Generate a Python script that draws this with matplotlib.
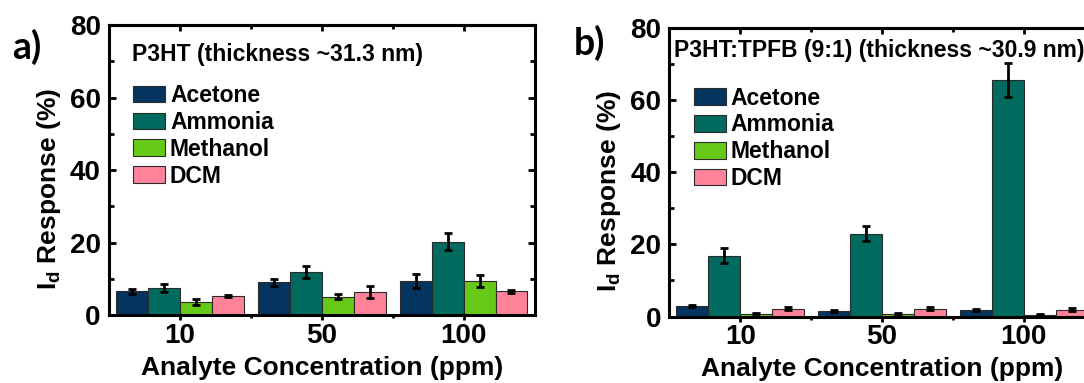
import matplotlib
matplotlib.use('Agg')
import matplotlib.pyplot as plt
import numpy as np

# concentrations (ppm)
conc = ['10', '50', '100']
gases = ['Acetone', 'Ammonia', 'Methanol', 'DCM']
colors = ['#04355f', '#006b5e', '#66c918', '#ff8298']

# panel a) P3HT
a_acetone = [6.5, 9.0, 9.4]
a_ammonia = [7.5, 11.9, 20.2]
a_methanol = [3.6, 5.0, 9.4]
a_dcm = [5.3, 6.3, 6.6]
a_acetone_err = [0.8, 0.9, 2.0]
a_ammonia_err = [1.1, 1.75, 2.4]
a_methanol_err = [0.7, 0.7, 1.6]
a_dcm_err = [0.3, 1.6, 0.4]

# panel b) P3HT:TPFB
b_acetone = [3.0, 1.5, 1.7]
b_ammonia = [16.9, 23.0, 65.6]
b_methanol = [0.8, 0.7, 0.5]
b_dcm = [2.1, 2.2, 1.9]
b_acetone_err = [0.3, 0.3, 0.3]
b_ammonia_err = [2.1, 2.2, 4.6]
b_methanol_err = [0.2, 0.2, 0.2]
b_dcm_err = [0.4, 0.4, 0.4]

plt.rcParams['font.family'] = ['Liberation Sans', 'DejaVu Sans']
plt.rcParams['font.weight'] = 'bold'
plt.rcParams['mathtext.fontset'] = 'custom'
plt.rcParams['mathtext.default'] = 'bf'
plt.rcParams['mathtext.bf'] = 'Liberation Sans:bold'
plt.rcParams['mathtext.rm'] = 'Liberation Sans:bold'

fig = plt.figure(figsize=(10.84, 3.83), dpi=100)
ax1 = fig.add_axes([0.1006, 0.1775, 0.3925, 0.7572])
ax2 = fig.add_axes([0.6175, 0.1736, 0.3925, 0.7533])

w = 0.225
x = np.arange(1, len(conc) + 1)


def panel(ax, vals, errs, title, tx, ty, letter, lx, ly):
    for i in range(4):
        ax.bar(x + (i - 1.5) * w, vals[i], w, color=colors[i], edgecolor='#2b2b2b',
               linewidth=0.8, label=gases[i], zorder=2)
        ax.errorbar(x + (i - 1.5) * w, vals[i], yerr=errs[i], fmt='none', ecolor='black',
                    elinewidth=2, capsize=3, capthick=2, zorder=3)
    ax.set_xlim(0.5, 3.5)
    ax.set_ylim(0, 80)
    ax.set_yticks([0, 20, 40, 60, 80])
    ax.set_yticks([10, 30, 50, 70], minor=True)
    ax.set_xticks(x)
    ax.set_xticklabels(conc)
    ax.set_xticks([1.5, 2.5], minor=True)
    for s in ax.spines.values():
        s.set_linewidth(2.2)
    ax.tick_params(axis='y', which='both', direction='in', left=True, right=True,
                   width=2, labelsize=20, pad=6)
    ax.tick_params(axis='y', which='major', length=5)
    ax.tick_params(axis='y', which='minor', length=3.5)
    ax.tick_params(axis='x', which='both', direction='out', top=False, width=2,
                   labelsize=20, pad=2)
    ax.tick_params(axis='x', which='major', length=3.5)
    ax.tick_params(axis='x', which='minor', length=2.5)
    # inward ticks on the top frame
    top = ax.secondary_xaxis('top')
    top.set_xticks(x)
    top.set_xticks([1.5, 2.5], minor=True)
    top.tick_params(which='both', direction='in', labeltop=False, width=2)
    top.tick_params(which='major', length=4.5)
    top.tick_params(which='minor', length=3)
    top.spines['top'].set_linewidth(2.2)
    for lab in ax.get_xticklabels() + ax.get_yticklabels():
        lab.set_fontweight('bold')
    ax.set_xlabel('Analyte Concentration (ppm)', fontsize=19, fontweight='bold')
    ax.xaxis.set_label_coords(0.5, -0.14)
    ax.set_ylabel('I$_{d}$ Response (%)', fontsize=19, fontweight='bold')
    ax.yaxis.set_label_coords(-0.108, 0.435)
    ax.text(tx, ty, title, transform=ax.transAxes, fontsize=16.5, fontweight='bold',
            va='baseline', ha='left')
    leg = ax.legend(loc='upper left', bbox_to_anchor=(0.057, 0.797), frameon=False,
                    fontsize=16.5, handlelength=1.4, handleheight=0.72, handletextpad=0.2,
                    labelspacing=0.17, borderpad=0, borderaxespad=0)
    for t in leg.get_texts():
        t.set_fontweight('bold')
    fig.text(lx, ly, letter, fontsize=27, fontweight='bold', family=['Lato', 'DejaVu Sans'],
             va='center', ha='left')


panel(ax1, [a_acetone, a_ammonia, a_methanol, a_dcm],
      [a_acetone_err, a_ammonia_err, a_methanol_err, a_dcm_err],
      'P3HT (thickness ~31.3 nm)', 0.053, 0.877, 'a)', 12 / 1084, 1 - 47 / 383)
panel(ax2, [b_acetone, b_ammonia, b_methanol, b_dcm],
      [b_acetone_err, b_ammonia_err, b_methanol_err, b_dcm_err],
      'P3HT:TPFB (9:1) (thickness ~30.9 nm)', 0.011, 0.898, 'b)', 574 / 1084, 1 - 43 / 383)

fig.savefig('out.png', dpi=100)
